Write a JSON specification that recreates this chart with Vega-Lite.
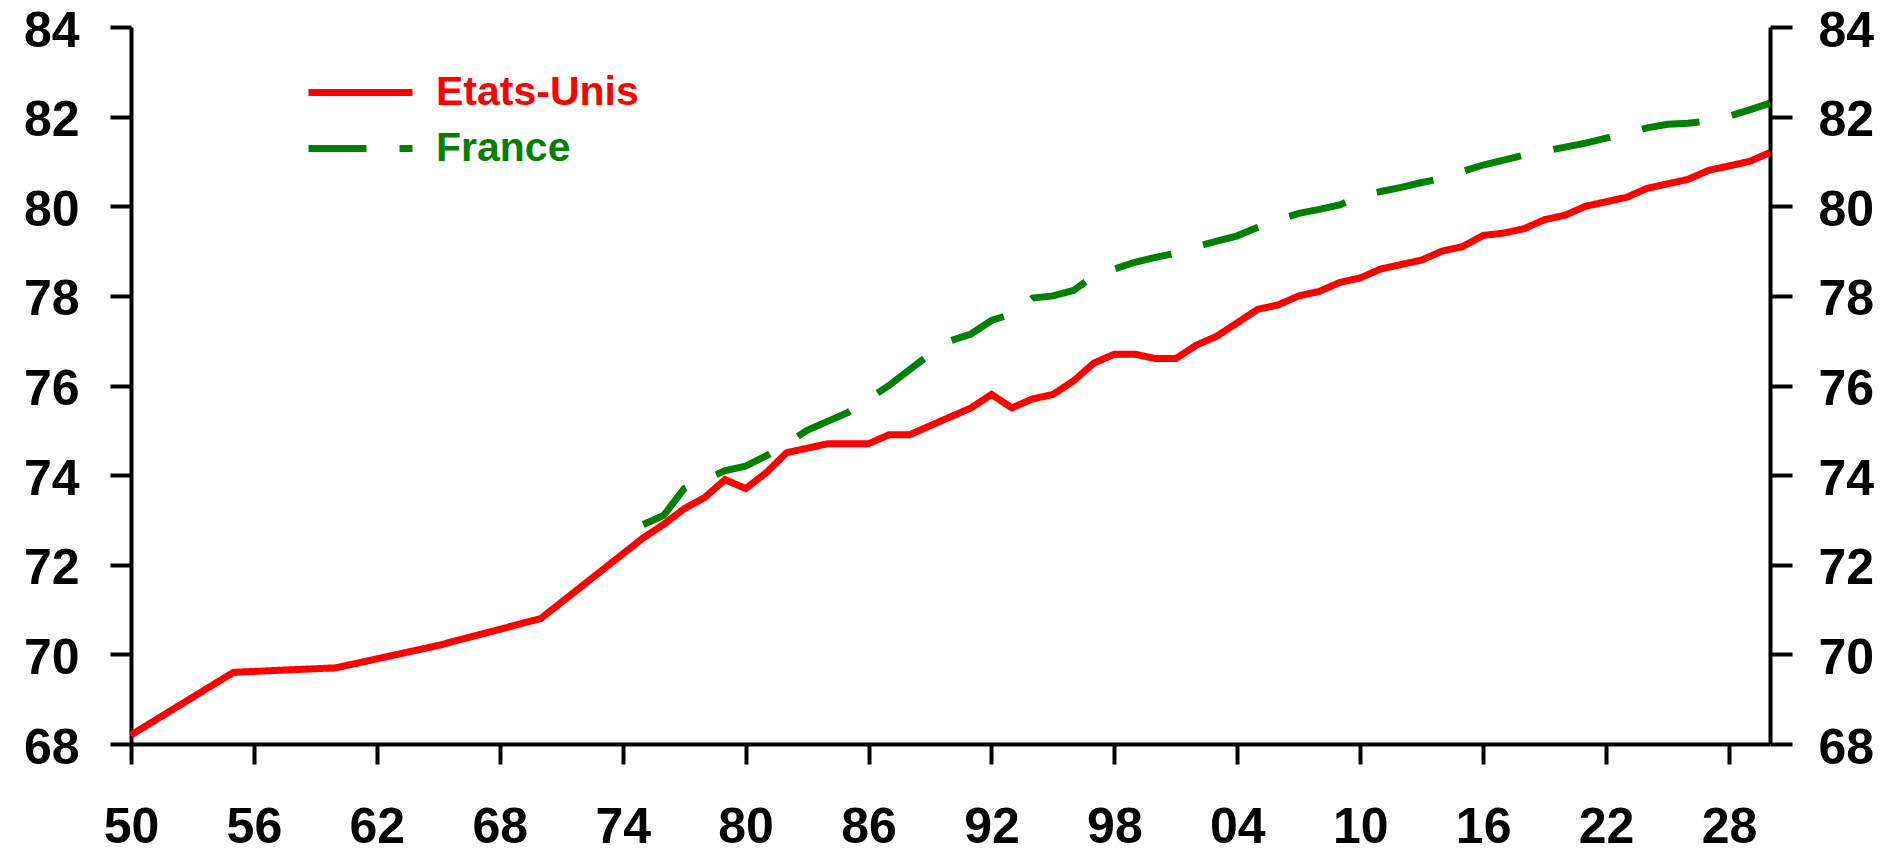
{
  "$schema": "https://vega.github.io/schema/vega-lite/v6.json",
  "width": 1639,
  "height": 717,
  "autosize": {"type": "none"},
  "padding": {"left": 131, "top": 27, "right": 133, "bottom": 109},
  "background": "white",
  "config": {"view": {"stroke": null}, "font": "Liberation Sans"},
  "data": {
    "values": [
      {"pays": "Etats-Unis", "year": 1950, "value": 68.2},
      {"pays": "Etats-Unis", "year": 1955, "value": 69.6},
      {"pays": "Etats-Unis", "year": 1960, "value": 69.7},
      {"pays": "Etats-Unis", "year": 1965, "value": 70.2},
      {"pays": "Etats-Unis", "year": 1970, "value": 70.8},
      {"pays": "Etats-Unis", "year": 1975, "value": 72.6},
      {"pays": "Etats-Unis", "year": 1976, "value": 72.9},
      {"pays": "Etats-Unis", "year": 1977, "value": 73.25},
      {"pays": "Etats-Unis", "year": 1978, "value": 73.5},
      {"pays": "Etats-Unis", "year": 1979, "value": 73.9},
      {"pays": "Etats-Unis", "year": 1980, "value": 73.7},
      {"pays": "Etats-Unis", "year": 1981, "value": 74.05},
      {"pays": "Etats-Unis", "year": 1982, "value": 74.5},
      {"pays": "Etats-Unis", "year": 1983, "value": 74.6},
      {"pays": "Etats-Unis", "year": 1984, "value": 74.7},
      {"pays": "Etats-Unis", "year": 1985, "value": 74.7},
      {"pays": "Etats-Unis", "year": 1986, "value": 74.7},
      {"pays": "Etats-Unis", "year": 1987, "value": 74.9},
      {"pays": "Etats-Unis", "year": 1988, "value": 74.9},
      {"pays": "Etats-Unis", "year": 1989, "value": 75.1},
      {"pays": "Etats-Unis", "year": 1990, "value": 75.3},
      {"pays": "Etats-Unis", "year": 1991, "value": 75.5},
      {"pays": "Etats-Unis", "year": 1992, "value": 75.8},
      {"pays": "Etats-Unis", "year": 1993, "value": 75.5},
      {"pays": "Etats-Unis", "year": 1994, "value": 75.7},
      {"pays": "Etats-Unis", "year": 1995, "value": 75.8},
      {"pays": "Etats-Unis", "year": 1996, "value": 76.1},
      {"pays": "Etats-Unis", "year": 1997, "value": 76.5},
      {"pays": "Etats-Unis", "year": 1998, "value": 76.7},
      {"pays": "Etats-Unis", "year": 1999, "value": 76.7},
      {"pays": "Etats-Unis", "year": 2000, "value": 76.6},
      {"pays": "Etats-Unis", "year": 2001, "value": 76.6},
      {"pays": "Etats-Unis", "year": 2002, "value": 76.9},
      {"pays": "Etats-Unis", "year": 2003, "value": 77.1},
      {"pays": "Etats-Unis", "year": 2004, "value": 77.4},
      {"pays": "Etats-Unis", "year": 2005, "value": 77.7},
      {"pays": "Etats-Unis", "year": 2006, "value": 77.8},
      {"pays": "Etats-Unis", "year": 2007, "value": 78.0},
      {"pays": "Etats-Unis", "year": 2008, "value": 78.1},
      {"pays": "Etats-Unis", "year": 2009, "value": 78.3},
      {"pays": "Etats-Unis", "year": 2010, "value": 78.4},
      {"pays": "Etats-Unis", "year": 2011, "value": 78.6},
      {"pays": "Etats-Unis", "year": 2012, "value": 78.7},
      {"pays": "Etats-Unis", "year": 2013, "value": 78.8},
      {"pays": "Etats-Unis", "year": 2014, "value": 79.0},
      {"pays": "Etats-Unis", "year": 2015, "value": 79.1},
      {"pays": "Etats-Unis", "year": 2016, "value": 79.35},
      {"pays": "Etats-Unis", "year": 2017, "value": 79.4},
      {"pays": "Etats-Unis", "year": 2018, "value": 79.5},
      {"pays": "Etats-Unis", "year": 2019, "value": 79.7},
      {"pays": "Etats-Unis", "year": 2020, "value": 79.8},
      {"pays": "Etats-Unis", "year": 2021, "value": 80.0},
      {"pays": "Etats-Unis", "year": 2022, "value": 80.1},
      {"pays": "Etats-Unis", "year": 2023, "value": 80.2},
      {"pays": "Etats-Unis", "year": 2024, "value": 80.4},
      {"pays": "Etats-Unis", "year": 2025, "value": 80.5},
      {"pays": "Etats-Unis", "year": 2026, "value": 80.6},
      {"pays": "Etats-Unis", "year": 2027, "value": 80.8},
      {"pays": "Etats-Unis", "year": 2028, "value": 80.9},
      {"pays": "Etats-Unis", "year": 2029, "value": 81.0},
      {"pays": "Etats-Unis", "year": 2030, "value": 81.2},
      {"pays": "France", "year": 1975, "value": 72.9},
      {"pays": "France", "year": 1976, "value": 73.1},
      {"pays": "France", "year": 1977, "value": 73.7},
      {"pays": "France", "year": 1978, "value": 73.9},
      {"pays": "France", "year": 1979, "value": 74.1},
      {"pays": "France", "year": 1980, "value": 74.2},
      {"pays": "France", "year": 1981, "value": 74.43},
      {"pays": "France", "year": 1982, "value": 74.7},
      {"pays": "France", "year": 1983, "value": 75.0},
      {"pays": "France", "year": 1984, "value": 75.2},
      {"pays": "France", "year": 1985, "value": 75.4},
      {"pays": "France", "year": 1986, "value": 75.7},
      {"pays": "France", "year": 1987, "value": 76.0},
      {"pays": "France", "year": 1988, "value": 76.35},
      {"pays": "France", "year": 1989, "value": 76.7},
      {"pays": "France", "year": 1990, "value": 77.0},
      {"pays": "France", "year": 1991, "value": 77.15},
      {"pays": "France", "year": 1992, "value": 77.45},
      {"pays": "France", "year": 1993, "value": 77.6},
      {"pays": "France", "year": 1994, "value": 77.95},
      {"pays": "France", "year": 1995, "value": 78.0},
      {"pays": "France", "year": 1996, "value": 78.12},
      {"pays": "France", "year": 1997, "value": 78.45},
      {"pays": "France", "year": 1998, "value": 78.6},
      {"pays": "France", "year": 1999, "value": 78.75},
      {"pays": "France", "year": 2000, "value": 78.86},
      {"pays": "France", "year": 2001, "value": 78.95},
      {"pays": "France", "year": 2002, "value": 79.1},
      {"pays": "France", "year": 2003, "value": 79.22},
      {"pays": "France", "year": 2004, "value": 79.34},
      {"pays": "France", "year": 2005, "value": 79.53},
      {"pays": "France", "year": 2006, "value": 79.7},
      {"pays": "France", "year": 2007, "value": 79.84},
      {"pays": "France", "year": 2008, "value": 79.93},
      {"pays": "France", "year": 2009, "value": 80.03},
      {"pays": "France", "year": 2010, "value": 80.23},
      {"pays": "France", "year": 2011, "value": 80.33},
      {"pays": "France", "year": 2012, "value": 80.42},
      {"pays": "France", "year": 2013, "value": 80.53},
      {"pays": "France", "year": 2014, "value": 80.62},
      {"pays": "France", "year": 2015, "value": 80.78},
      {"pays": "France", "year": 2016, "value": 80.92},
      {"pays": "France", "year": 2017, "value": 81.03},
      {"pays": "France", "year": 2018, "value": 81.14},
      {"pays": "France", "year": 2019, "value": 81.23},
      {"pays": "France", "year": 2020, "value": 81.32},
      {"pays": "France", "year": 2021, "value": 81.41},
      {"pays": "France", "year": 2022, "value": 81.52},
      {"pays": "France", "year": 2023, "value": 81.63},
      {"pays": "France", "year": 2024, "value": 81.75},
      {"pays": "France", "year": 2025, "value": 81.83},
      {"pays": "France", "year": 2026, "value": 81.85},
      {"pays": "France", "year": 2027, "value": 81.9},
      {"pays": "France", "year": 2028, "value": 82.01},
      {"pays": "France", "year": 2029, "value": 82.15},
      {"pays": "France", "year": 2030, "value": 82.3}
    ]
  },
  "layer": [
    {
      "mark": {"type": "line", "strokeWidth": 7, "clip": false},
      "encoding": {
        "x": {
          "field": "year", "type": "quantitative",
          "scale": {"domain": [1950, 2030], "nice": false, "zero": false},
          "axis": {
            "title": null, "grid": false,
            "values": [1950, 1956, 1962, 1968, 1974, 1980, 1986, 1992, 1998, 2004, 2010, 2016, 2022, 2028],
            "labelExpr": "substring(toString(datum.value), 2, 4)",
            "domainColor": "black", "domainWidth": 4,
            "tickColor": "black", "tickWidth": 4, "tickSize": 20,
            "labelFont": "Liberation Sans", "labelFontWeight": "bold", "labelFontSize": 50,
            "labelColor": "black", "labelPadding": 38, "labelOverlap": false, "labelFlush": false
          }
        },
        "y": {
          "field": "value", "type": "quantitative",
          "scale": {"domain": [68, 84], "nice": false, "zero": false},
          "axis": {
            "orient": "left", "title": null, "grid": false,
            "values": [68, 70, 72, 74, 76, 78, 80, 82, 84],
            "domainColor": "black", "domainWidth": 4,
            "tickColor": "black", "tickWidth": 4, "tickSize": 21,
            "labelFont": "Liberation Sans", "labelFontWeight": "bold", "labelFontSize": 50,
            "labelColor": "black", "labelPadding": 31, "labelOffset": 4,
            "labelOverlap": false, "labelFlush": false
          }
        },
        "color": {
          "field": "pays", "type": "nominal",
          "scale": {"domain": ["Etats-Unis", "France"], "range": ["#ff0000", "#008000"]},
          "legend": {
            "orient": "none", "legendX": 209, "legendY": 45, "title": null,
            "padding": 0, "symbolType": "M-4,0H4", "symbolSize": 676, "symbolStrokeWidth": 7,
            "labelFont": "Liberation Sans", "labelFontSize": 41, "labelFontWeight": "bold",
            "labelOffset": 55, "rowPadding": 14, "labelLimit": 500,
            "encode": {"labels": {"update": {"fill": {"signal": "datum.value === 'Etats-Unis' ? '#ff0000' : '#008000'"}}}}
          }
        },
        "strokeDash": {
          "field": "pays", "type": "nominal",
          "scale": {"domain": ["Etats-Unis", "France"], "range": [[1, 0], [58, 33]]},
          "legend": {
            "orient": "none", "legendX": 209, "legendY": 45, "title": null,
            "padding": 0, "symbolType": "M-4,0H4", "symbolSize": 676, "symbolStrokeWidth": 7,
            "labelFont": "Liberation Sans", "labelFontSize": 41, "labelFontWeight": "bold",
            "labelOffset": 55, "rowPadding": 14, "labelLimit": 500,
            "encode": {"labels": {"update": {"fill": {"signal": "datum.value === 'Etats-Unis' ? '#ff0000' : '#008000'"}}}}
          }
        }
      }
    },
    {
      "mark": {"type": "line", "opacity": 0},
      "encoding": {
        "x": {"field": "year", "type": "quantitative"},
        "y": {
          "field": "value", "type": "quantitative",
          "axis": {
            "orient": "right", "title": null, "grid": false,
            "values": [68, 70, 72, 74, 76, 78, 80, 82, 84],
            "domainColor": "black", "domainWidth": 4,
            "tickColor": "black", "tickWidth": 4, "tickSize": 22,
            "labelFont": "Liberation Sans", "labelFontWeight": "bold", "labelFontSize": 50,
            "labelColor": "black", "labelPadding": 26, "labelOffset": 4,
            "labelOverlap": false, "labelFlush": false
          }
        },
        "detail": {"field": "pays", "type": "nominal"}
      }
    }
  ],
  "resolve": {"axis": {"y": "independent"}}
}
